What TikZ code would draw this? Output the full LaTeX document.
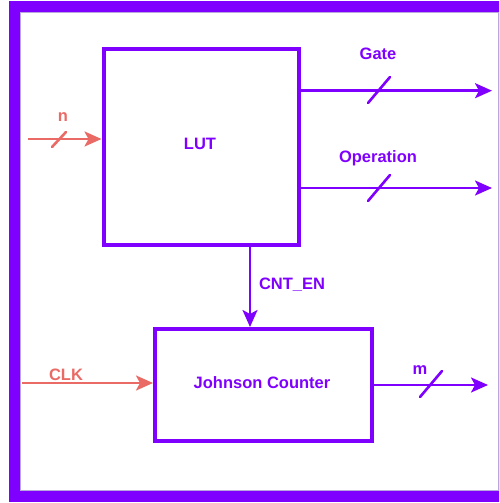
\documentclass[tikz,border=0pt]{standalone}
\usepackage{fontspec}
\setmainfont{Liberation Sans}
\usetikzlibrary{arrows.meta}
\definecolor{vio}{HTML}{7F00FF}
\definecolor{sal}{HTML}{EA6B66}
\definecolor{lav}{HTML}{B9A6DC}
\tikzset{
  blk/.style={draw=vio, line width=4pt, inner sep=0pt, font=\bfseries\fontsize{16.5}{19}\selectfont, text=vio},
  lbl/.style={font=\bfseries\fontsize{16.5}{19}\selectfont, inner sep=0pt},
  sig/.style={line width=2.6pt, -{Stealth[length=17pt,width=15pt,inset=4pt]}},
  bus/.style={line width=2.6pt, line cap=round},
}
\begin{document}
\begin{tikzpicture}[x=1pt,y=-1pt]
\useasboundingbox (0,0) rectangle (499,503);
\clip (0,0) rectangle (499,503);
% frame
\fill[vio] (9,1) rectangle (510,502);
\filldraw[fill=white, draw=lav, line width=0.8pt] (20,12) rectangle (498,490);
% blocks
\node[blk, minimum width=195.5pt, minimum height=196pt] (lut) at (201.25,147) {};
\node[lbl, text=vio] (luttxt) at (200,144) {LUT};
\node[blk, minimum width=217pt, minimum height=112pt] (jc) at (263.5,385) {};
\node[lbl, text=vio] (jctxt) at (262,383) {Johnson Counter};
% n input
\coordinate (nin) at (28,139);
\draw[sig, sal] (nin) -- (lut.west |- nin);
\coordinate (ns1) at (52,147); \coordinate (ns2) at (66,132);
\draw[bus, sal] (ns1) -- (ns2);
\node[lbl, text=sal] (nl) at (63,117) {n};
% CLK input
\coordinate (clkin) at (22,383);
\draw[sig, sal] (clkin) -- (jc.west |- clkin);
\node[lbl, text=sal] (clkl) at (66,375) {CLK};
% Gate output
\coordinate (gout) at (492,90.7);
\draw[sig, vio] (lut.east |- gout) -- (gout);
\coordinate (gs1) at (368,103); \coordinate (gs2) at (390,77);
\draw[bus, vio] (gs1) -- (gs2);
\node[lbl, text=vio] (gl) at (378,54) {Gate};
% Operation output
\coordinate (oout) at (492,188);
\draw[sig, vio] (lut.east |- oout) -- (oout);
\coordinate (os1) at (368,201); \coordinate (os2) at (390,175);
\draw[bus, vio] (os1) -- (os2);
\node[lbl, text=vio] (ol) at (378,158) {Operation};
% m output
\coordinate (mout) at (488,385);
\draw[sig, vio] (jc.east |- mout) -- (mout);
\coordinate (ms1) at (420,397); \coordinate (ms2) at (442,371);
\draw[bus, vio] (ms1) -- (ms2);
\node[lbl, text=vio] (ml) at (420,370) {m};
% CNT_EN
\coordinate (cx) at (250,0);
\draw[sig, vio] (lut.south -| cx) -- (jc.north -| cx);
\node[lbl, text=vio] (cl) at (292,285) {CNT\_EN};
\end{tikzpicture}
\end{document}
